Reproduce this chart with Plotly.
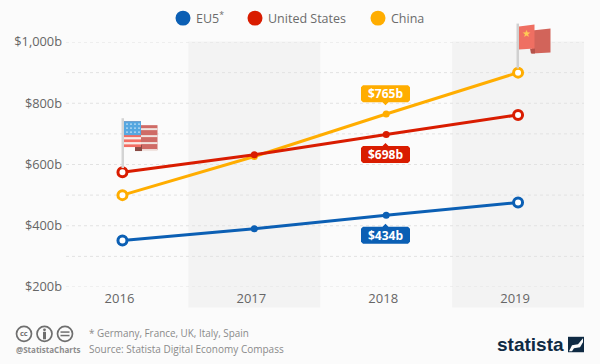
import plotly.graph_objects as go

years = [2016, 2017, 2018, 2019]
eu5 = [352, 390, 434, 476]
usa = [575, 632, 698, 762]
china = [500, 626, 765, 900]
tick_vals = [200, 400, 600, 800, 1000]
tick_text = ["$200b", "$400b", "$600b", "$800b", "$1,000b"]
minor_grid = [300, 500, 700, 900]
legend_names = ["EU5<sup>*</sup>", "United States", "China"]
BLUE, RED, AMBER = "#0b5fb4", "#d91c00", "#ffad00"
BG = "#fbfbfb"
W, H = 600, 364
L, R, T, B = 66, 16, 41.5, 76.5
FONT = "Open Sans"

def px(x): return (x - L) / (W - L - R)
def py(y): return (H - B - y) / (H - T - B)

fig = go.Figure()
shapes = []
annos = []

def path(pts, fill, line=None, width=0):
    d = "M " + " L ".join(f"{px(x):.5f},{py(y):.5f}" for x, y in pts) + " Z"
    shapes.append(dict(type="path", xref="paper", yref="paper", path=d, fillcolor=fill,
                       line=dict(width=width, color=line or fill), layer="above"))

def rect(x0, y0, x1, y1, fill, layer="above"):
    shapes.append(dict(type="rect", xref="paper", yref="paper", x0=px(x0), x1=px(x1), y0=py(y1), y1=py(y0),
                       fillcolor=fill, line=dict(width=0), layer=layer))

def circ(cx, cy, r, fill="rgba(0,0,0,0)", line="#777", width=1.5):
    shapes.append(dict(type="circle", xref="paper", yref="paper", x0=px(cx-r), x1=px(cx+r), y0=py(cy+r), y1=py(cy-r),
                       fillcolor=fill, line=dict(width=width, color=line), layer="above"))

def text(x, y, s, size, color, anchor="left", family=FONT):
    annos.append(dict(xref="paper", yref="paper", x=px(x), y=py(y), text=s, showarrow=False, xanchor=anchor,
                      yanchor="middle", font=dict(size=size, color=color, family=family), borderpad=0,
                      borderwidth=0))

# background bands
for a, b in [(2016.5, 2017.5), (2018.5, 2019.5)]:
    shapes.append(dict(type="rect", xref="x", yref="paper", x0=a, x1=b, y0=py(308), y1=1.002,
                       fillcolor="#f3f3f3", line=dict(width=0), layer="below"))
for v in minor_grid + tick_vals:
    shapes.append(dict(type="line", xref="paper", yref="y", x0=0, x1=1, y0=v, y1=v,
                       line=dict(color="#e2e2e2", width=1, dash="dot"), layer="below"))

# series (China below United States, as in the reference)
series = [("EU5", eu5, BLUE), ("China", china, AMBER), ("United States", usa, RED)]
for name, vals, col in series:
    fig.add_trace(go.Scatter(x=years, y=vals, mode="lines", showlegend=False, name=name,
                             line=dict(color=col, width=3), hoverinfo="skip"))
    fig.add_trace(go.Scatter(x=years[1:3], y=vals[1:3], mode="markers", showlegend=False,
                             marker=dict(color=col, size=7), hoverinfo="skip"))
    fig.add_trace(go.Scatter(x=[years[0], years[3]], y=[vals[0], vals[3]], mode="markers", showlegend=False,
                             marker=dict(color="white", size=9, line=dict(color=col, width=3)), hoverinfo="skip"))

# legend row
for cx, tx, name, col in zip((183, 255, 378), (196, 268, 391), legend_names, (BLUE, RED, AMBER)):
    circ(cx, 17.5, 7.5, fill=col, line=col, width=0)
    text(tx, 17.5, name, 12.5, "#6b6b6b")

# value callouts
def callout(cx, top, col, s, up):
    x0, x1, y0, y1 = cx-24.5, cx+24.5, top, top+17
    if up:
        pts = [(x0+2, y0), (x1-2, y0), (x1, y0+2), (x1, y1-2), (x1-2, y1), (cx+3, y1), (cx, y1+3), (cx-3, y1), (x0+2, y1), (x0, y1-2), (x0, y0+2)]
    else:
        pts = [(x0+2, y0), (cx-3, y0), (cx, y0-3), (cx+3, y0), (x1-2, y0), (x1, y0+2), (x1, y1-2), (x1-2, y1), (x0+2, y1), (x0, y1-2), (x0, y0+2)]
    path(pts, col)
    text(cx, top+8.7, f"<b>{s}</b>", 12, "white", "center")

callout(385.5, 85, AMBER, "$765b", True)
callout(385.5, 146, RED, "$698b", False)
callout(385.5, 227, BLUE, "$434b", False)

# US flag
rect(121.5, 118, 124, 168, "#d4d4d4")
rect(141, 125, 157.5, 150, "#cf6b66")
for y in (125, 132, 139, 146):
    rect(141, y+3, 157.5, y+5, "#f0e4e0")
rect(135, 145, 142, 151, "#8a4a44")
rect(124, 121, 141, 147, "#f26d63")
for y in (137, 142):
    rect(124, y, 141, y+2.3, "#f7ece8")
rect(124, 121, 141, 135, "#56a7e0")
for yy in (124, 128, 132):
    for xx in (127, 131, 135, 139):
        rect(xx-.7, yy-.7, xx+.7, yy+.7, "#e8f3fb")

# China flag
rect(516.5, 23, 519, 68, "#d0d0d0")
path([(532, 30), (550.5, 28), (550.5, 52), (532, 53)], "#d2645a")
path([(530, 48), (535, 48), (535, 53), (531, 53)], "#b5524a")
path([(519, 26), (534.5, 24), (534.5, 48), (519, 49)], "#ef6f62")
text(526.5, 33, "★", 10, "#ffcb55", "center", "DejaVu Sans")

# footer
for cx in (24, 44.5, 65):
    circ(cx, 334.5, 7.5, line="#6f6f6f", width=1.7)
text(24, 334, "<b>cc</b>", 7.5, "#6f6f6f", "center")
circ(44.5, 330.5, 1.4, fill="#6f6f6f", line="#6f6f6f", width=0)
rect(43, 332.5, 46, 340, "#6f6f6f")
rect(60.5, 332, 69.5, 333.5, "#6f6f6f")
rect(60.5, 335.5, 69.5, 337, "#6f6f6f")
text(15.5, 350, "<b>@StatistaCharts</b>", 8, "#8c8c8c")
text(89, 333.5, "* Germany, France, UK, Italy, Spain", 9.9, "#8a8a8a")
text(89, 349.5, "Source: Statista Digital Economy Compass", 10, "#8a8a8a")
text(497, 345, "<b>statista</b>", 19, "#0f2a43", "left", "Liberation Sans")
path([(568, 337.5), (584, 337.5), (584, 353), (568, 353)], "#0f2a43")
path([(569, 352), (572, 346), (578, 345), (583, 339), (583, 343), (580, 348), (574, 349), (572, 352)], BG)

fig.update_layout(
    width=W, height=H, autosize=False, paper_bgcolor=BG, plot_bgcolor=BG, showlegend=False,
    margin=dict(l=L, r=R, t=T, b=B), font=dict(family=FONT, size=13, color="#666666"),
    shapes=shapes, annotations=annos,
    xaxis=dict(range=[2015.572, 2019.5], tickvals=years, ticks="", showgrid=False, zeroline=False,
               showline=False, tickfont=dict(size=13, color="#666666"), automargin=False,
               ticklabelstandoff=2, ticklabelshift=-3),
    yaxis=dict(range=[200, 1000], tickvals=tick_vals, ticktext=tick_text, ticks="", showgrid=False,
               zeroline=False, showline=False, tickfont=dict(size=12.8, color="#666666"), automargin=False,
               ticklabelstandoff=3),
)
fig.write_html("out.html", config=dict(displayModeBar=False), post_script="document.body.style.margin='0';")
